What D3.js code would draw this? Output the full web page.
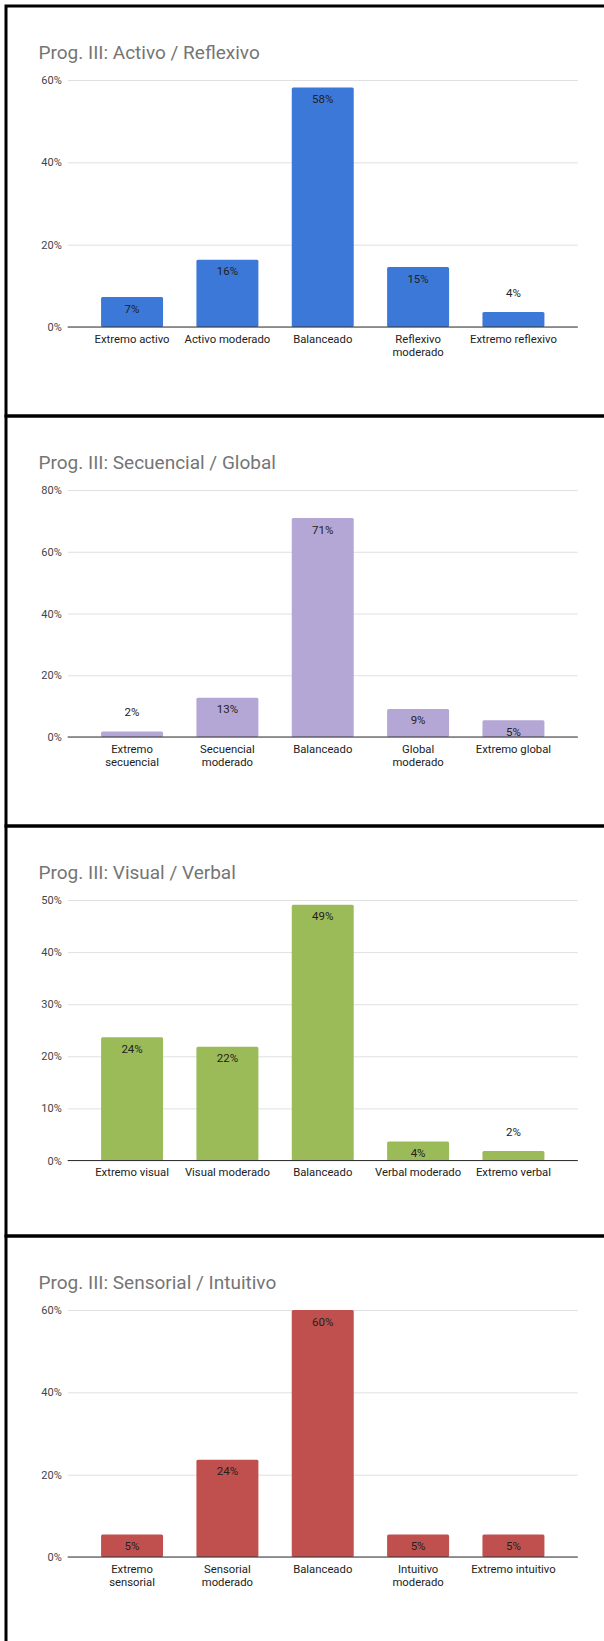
<!DOCTYPE html>
<html>
<head>
<meta charset="utf-8">
<script src="https://cdn.jsdelivr.net/npm/d3@7"></script>
<style>
  body { margin: 0; background: #fff; }
  svg { display: block; font-family: Roboto, "Noto Sans", sans-serif; }
</style>
</head>
<body>
<script>
// values (share of students, 0..1)
const catsActivo = ["Extremo activo", "Activo moderado", "Balanceado", "Reflexivo\nmoderado", "Extremo reflexivo"];
const valsActivo = [0.0727, 0.1636, 0.5818, 0.1455, 0.0364];
const ticksActivo = [0, 0.2, 0.4, 0.6];

const catsSecuencial = ["Extremo\nsecuencial", "Secuencial\nmoderado", "Balanceado", "Global\nmoderado", "Extremo global"];
const valsSecuencial = [0.0182, 0.1273, 0.7091, 0.0909, 0.0545];
const ticksSecuencial = [0, 0.2, 0.4, 0.6, 0.8];

const catsVisual = ["Extremo visual", "Visual moderado", "Balanceado", "Verbal moderado", "Extremo verbal"];
const valsVisual = [0.2364, 0.2182, 0.4909, 0.0364, 0.0182];
const ticksVisual = [0, 0.1, 0.2, 0.3, 0.4, 0.5];

const catsSensorial = ["Extremo\nsensorial", "Sensorial\nmoderado", "Balanceado", "Intuitivo\nmoderado", "Extremo intuitivo"];
const valsSensorial = [0.0545, 0.2364, 0.6, 0.0545, 0.0545];
const ticksSensorial = [0, 0.2, 0.4, 0.6];

const charts = [
    { title: "Prog. III: Activo / Reflexivo", cats: catsActivo, vals: valsActivo, ticks: ticksActivo, color: "#3c78d8" },
    { title: "Prog. III: Secuencial / Global", cats: catsSecuencial, vals: valsSecuencial, ticks: ticksSecuencial, color: "#b4a7d6" },
    { title: "Prog. III: Visual / Verbal", cats: catsVisual, vals: valsVisual, ticks: ticksVisual, color: "#9bbb59" },
    { title: "Prog. III: Sensorial / Intuitivo", cats: catsSensorial, vals: valsSensorial, ticks: ticksSensorial, color: "#c0504d" }
];

const width = 604, height = 1641;
const panelH = 410, firstTop = 6;
const plotLeft = 67.7, plotRight = 577.8;
const pct = d3.format(".0%");

var svg = d3.select("body").append("svg")
    .attr("width", width)
    .attr("height", height);

svg.append("rect").attr("width", width).attr("height", height).attr("fill", "#fff");

charts.forEach((c, i) => {
    var top = firstTop + i * panelH;
    var g = svg.append("g");

    // plot gets taller when no category label wraps
    var maxLines = d3.max(c.cats, d => d.split("\n").length);
    var yTop = top + 74;
    var yBottom = top + 334.5 - (maxLines - 1) * 13.5;

    var x = d3.scaleBand()
        .domain(c.cats)
        .range([plotLeft, plotRight])
        .paddingInner(0.35)
        .paddingOuter(0.35);

    var y = d3.scaleLinear()
        .domain([0, d3.max(c.ticks)])
        .range([yBottom, yTop]);

    // title
    g.append("text")
        .attr("x", 38.5)
        .attr("y", top + 52.5)
        .attr("fill", "#757575")
        .attr("font-size", 19)
        .text(c.title);

    // gridlines + tick labels
    var axis = g.append("g")
        .attr("transform", "translate(" + plotLeft + ",0)")
        .call(d3.axisLeft(y).tickValues(c.ticks).tickFormat(pct)
            .tickSize(-(plotRight - plotLeft)).tickPadding(6));
    axis.select(".domain").remove();
    axis.selectAll(".tick line").attr("stroke", "#e0e0e0").attr("stroke-width", 1);
    axis.selectAll(".tick text")
        .attr("fill", "#444")
        .attr("font-size", 11)
        .attr("font-family", "Roboto, sans-serif");

    // bars
    g.selectAll(".bar")
        .data(c.vals)
        .enter().append("rect")
        .attr("class", "bar")
        .attr("x", (d, j) => x(c.cats[j]))
        .attr("y", d => y(d))
        .attr("width", x.bandwidth())
        .attr("height", d => y(0) - y(d))
        .attr("rx", 1.5)
        .attr("fill", c.color);

    // baseline
    g.append("line")
        .attr("x1", plotLeft).attr("x2", plotRight)
        .attr("y1", y(0)).attr("y2", y(0))
        .attr("stroke", "#333")
        .attr("stroke-width", 1.2);

    // value labels, inside the bar when it fits
    g.selectAll(".val")
        .data(c.vals)
        .enter().append("text")
        .attr("class", "val")
        .attr("x", (d, j) => x(c.cats[j]) + x.bandwidth() / 2)
        .attr("y", d => (y(0) - y(d)) >= 15 ? y(d) + 15.5 : y(d) - 15)
        .attr("text-anchor", "middle")
        .attr("font-size", 11.5)
        .attr("fill", "#222")
        .text(d => pct(d));

    // category labels
    var cat = g.selectAll(".cat")
        .data(c.cats)
        .enter().append("text")
        .attr("class", "cat")
        .attr("text-anchor", "middle")
        .attr("font-size", 11.3)
        .attr("fill", "#222");
    cat.each(function (d) {
        var t = d3.select(this);
        d.split("\n").forEach((line, k) => {
            t.append("tspan")
                .attr("x", x(d) + x.bandwidth() / 2)
                .attr("y", y(0) + 15.7 + k * 13)
                .text(line);
        });
    });

    // black frame round each chart (right edge falls off the page)
    g.append("rect")
        .attr("x", 6)
        .attr("y", top)
        .attr("width", 700)
        .attr("height", panelH)
        .attr("fill", "none")
        .attr("stroke", "#000")
        .attr("stroke-width", 3);
});
</script>
</body>
</html>
